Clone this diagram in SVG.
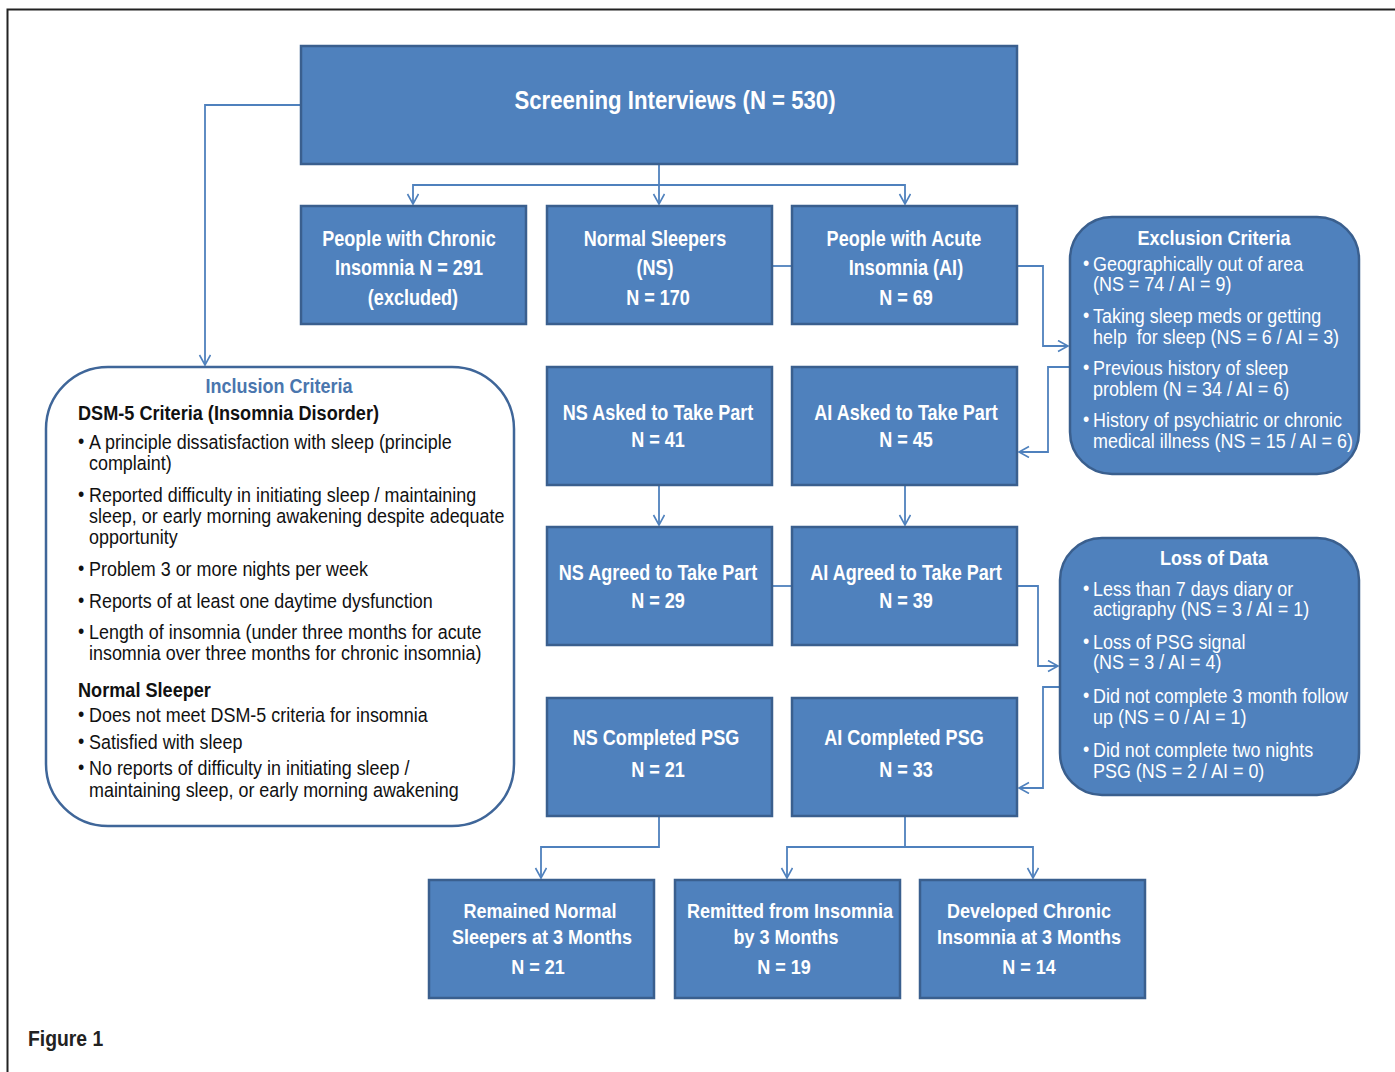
<svg xmlns="http://www.w3.org/2000/svg" width="1395" height="1072" viewBox="0 0 1395 1072">
<defs>
<marker id="arr" markerWidth="14" markerHeight="14" refX="11" refY="6" orient="auto" markerUnits="userSpaceOnUse">
<path d="M1,0.5 L11,6 L1,11.5" fill="none" stroke="#4F81BD" stroke-width="1.6"/>
</marker>
<style>
.box{fill:#4F81BD;stroke:#3A5F8E;stroke-width:2.5}
.rbox{fill:#4F81BD;stroke:#3A5F8E;stroke-width:2.5}
.wbox{fill:#fff;stroke:#3F6699;stroke-width:2.5}
text{font-family:"Liberation Sans Narrow","Arial Narrow","Liberation Sans",sans-serif;transform-box:fill-box}
.t{font-weight:bold;fill:#fff;text-anchor:middle;font-size:21.5px;transform-origin:center;transform:scaleX(0.84)}
.big{font-size:26px;transform:scaleX(0.854)}
.s{font-size:20px;transform:scaleX(0.9)}
.h{font-size:20px;transform:scaleX(0.9)}
.b text,.bw text{font-size:19.5px;transform-origin:0 0;transform:scaleX(0.92)}
.b text{fill:#111}
.bw text{fill:#fff}
.b .hb{font-weight:bold;transform:scaleX(0.93)}
.c{fill:none;stroke:#4F81BD;stroke-width:1.8}
</style>
</defs>
<rect width="1395" height="1072" fill="#fff"/>
<path d="M7.5,1072 V9.5 H1395" fill="none" stroke="#222" stroke-width="2"/>

<g id="connectors">
<path class="c" d="M301,105 H205 V365" marker-end="url(#arr)"/>
<path class="c" d="M659,164 V204" marker-end="url(#arr)"/>
<path class="c" d="M659,185 H413 V204" marker-end="url(#arr)"/>
<path class="c" d="M659,185 H905 V204" marker-end="url(#arr)"/>
<path class="c" d="M772,266 H792"/>
<path class="c" d="M1017,266 H1043 V346 H1068" marker-end="url(#arr)"/>
<path class="c" d="M1071,367 H1048 V452 H1019" marker-end="url(#arr)"/>
<path class="c" d="M659,485 V525" marker-end="url(#arr)"/>
<path class="c" d="M905,485 V525" marker-end="url(#arr)"/>
<path class="c" d="M772,586 H792"/>
<path class="c" d="M1017,586 H1038 V666 H1058" marker-end="url(#arr)"/>
<path class="c" d="M1061,687 H1043 V788 H1019" marker-end="url(#arr)"/>
<path class="c" d="M659,816 V847 H541 V878" marker-end="url(#arr)"/>
<path class="c" d="M905,816 V847 H787 V878" marker-end="url(#arr)"/>
<path class="c" d="M905,847 H1033 V878" marker-end="url(#arr)"/>
</g>

<g id="screening">
<rect class="box" x="301" y="46" width="716" height="118"/>
<text class="t big" x="675" y="109">Screening Interviews (N = 530)</text>
</g>

<g id="chronic">
<rect class="box" x="301" y="206" width="225" height="118"/>
<text class="t" x="409" y="246">People with Chronic</text>
<text class="t" x="409" y="275">Insomnia N = 291</text>
<text class="t" x="413" y="305">(excluded)</text>
</g>
<g id="ns">
<rect class="box" x="547" y="206" width="225" height="118"/>
<text class="t" x="655" y="246">Normal Sleepers</text>
<text class="t" x="655" y="275">(NS)</text>
<text class="t" x="658" y="305">N = 170</text>
</g>
<g id="ai">
<rect class="box" x="792" y="206" width="225" height="118"/>
<text class="t" x="904" y="246">People with Acute</text>
<text class="t" x="906" y="275">Insomnia (AI)</text>
<text class="t" x="906" y="305">N = 69</text>
</g>

<g id="ns-asked">
<rect class="box" x="547" y="367" width="225" height="118"/>
<text class="t" x="658" y="420">NS Asked to Take Part</text>
<text class="t" x="658" y="447">N = 41</text>
</g>
<g id="ai-asked">
<rect class="box" x="792" y="367" width="225" height="118"/>
<text class="t" x="906" y="420">AI Asked to Take Part</text>
<text class="t" x="906" y="447">N = 45</text>
</g>

<g id="ns-agreed">
<rect class="box" x="547" y="527" width="225" height="118"/>
<text class="t" x="658" y="580">NS Agreed to Take Part</text>
<text class="t" x="658" y="608">N = 29</text>
</g>
<g id="ai-agreed">
<rect class="box" x="792" y="527" width="225" height="118"/>
<text class="t" x="906" y="580">AI Agreed to Take Part</text>
<text class="t" x="906" y="608">N = 39</text>
</g>

<g id="ns-psg">
<rect class="box" x="547" y="698" width="225" height="118"/>
<text class="t" x="656" y="745">NS Completed PSG</text>
<text class="t" x="658" y="777">N = 21</text>
</g>
<g id="ai-psg">
<rect class="box" x="792" y="698" width="225" height="118"/>
<text class="t" x="904" y="745">AI Completed PSG</text>
<text class="t" x="906" y="777">N = 33</text>
</g>

<g id="remained">
<rect class="box" x="429" y="880" width="225" height="118"/>
<text class="t s" x="540" y="918">Remained Normal</text>
<text class="t s" x="542" y="944">Sleepers at 3 Months</text>
<text class="t s" x="538" y="974">N = 21</text>
</g>
<g id="remitted">
<rect class="box" x="675" y="880" width="225" height="118"/>
<text class="t s" x="790" y="918">Remitted from Insomnia</text>
<text class="t s" x="786" y="944">by 3 Months</text>
<text class="t s" x="784" y="974">N = 19</text>
</g>
<g id="developed">
<rect class="box" x="920" y="880" width="225" height="118"/>
<text class="t s" x="1029" y="918">Developed Chronic</text>
<text class="t s" x="1029" y="944">Insomnia at 3 Months</text>
<text class="t s" x="1029" y="974">N = 14</text>
</g>

<g id="exclusion">
<rect class="rbox" x="1070" y="217" width="289" height="257" rx="42"/>
<text class="t h" x="1214" y="245">Exclusion Criteria</text>
<g class="bw">
<text x="1083" y="270">•</text><text x="1093" y="271">Geographically out of area</text>
<text x="1093" y="291">(NS = 74 / AI = 9)</text>
<text x="1083" y="322">•</text><text x="1093" y="323">Taking sleep meds or getting</text>
<text x="1093" y="344" xml:space="preserve">help  for sleep (NS = 6 / AI = 3)</text>
<text x="1083" y="374">•</text><text x="1093" y="375">Previous history of sleep</text>
<text x="1093" y="396">problem (N = 34 / AI = 6)</text>
<text x="1083" y="426">•</text><text x="1093" y="427">History of psychiatric or chronic</text>
<text x="1093" y="448">medical illness (NS = 15 / AI = 6)</text>
</g>
</g>

<g id="loss">
<rect class="rbox" x="1060" y="538" width="299" height="257" rx="42"/>
<text class="t h" x="1214" y="565">Loss of Data</text>
<g class="bw">
<text x="1083" y="595">•</text><text x="1093" y="596">Less than 7 days diary or</text>
<text x="1093" y="616">actigraphy (NS = 3 / AI = 1)</text>
<text x="1083" y="648">•</text><text x="1093" y="649">Loss of PSG signal</text>
<text x="1093" y="669">(NS = 3 / AI = 4)</text>
<text x="1083" y="702">•</text><text x="1093" y="703">Did not complete 3 month follow</text>
<text x="1093" y="724">up (NS = 0 / AI = 1)</text>
<text x="1083" y="756">•</text><text x="1093" y="757">Did not complete two nights</text>
<text x="1093" y="778">PSG (NS = 2 / AI = 0)</text>
</g>
</g>

<g id="inclusion">
<rect class="wbox" x="46" y="367" width="468" height="459" rx="62"/>
<text class="t h" x="279" y="393" style="fill:#4A76AE">Inclusion Criteria</text>
<g class="b">
<text class="hb" x="78" y="420">DSM-5 Criteria (Insomnia Disorder)</text>
<text x="78" y="448">•</text><text x="89" y="449">A principle dissatisfaction with sleep (principle</text>
<text x="89" y="470">complaint)</text>
<text x="78" y="501">•</text><text x="89" y="502">Reported difficulty in initiating sleep / maintaining</text>
<text x="89" y="523">sleep, or early morning awakening despite adequate</text>
<text x="89" y="544">opportunity</text>
<text x="78" y="575">•</text><text x="89" y="576">Problem 3 or more nights per week</text>
<text x="78" y="607">•</text><text x="89" y="608">Reports of at least one daytime dysfunction</text>
<text x="78" y="638">•</text><text x="89" y="639">Length of insomnia (under three months for acute</text>
<text x="89" y="660">insomnia over three months for chronic insomnia)</text>
<text class="hb" x="78" y="697">Normal Sleeper</text>
<text x="78" y="721">•</text><text x="89" y="722">Does not meet DSM-5 criteria for insomnia</text>
<text x="78" y="748">•</text><text x="89" y="749">Satisfied with sleep</text>
<text x="78" y="774">•</text><text x="89" y="775">No reports of difficulty in initiating sleep /</text>
<text x="89" y="797">maintaining sleep, or early morning awakening</text>
</g>
</g>

<text x="28" y="1046" style="font-weight:bold;font-size:22px;fill:#222;transform-origin:0 0;transform:scaleX(0.88)">Figure 1</text>
</svg>
